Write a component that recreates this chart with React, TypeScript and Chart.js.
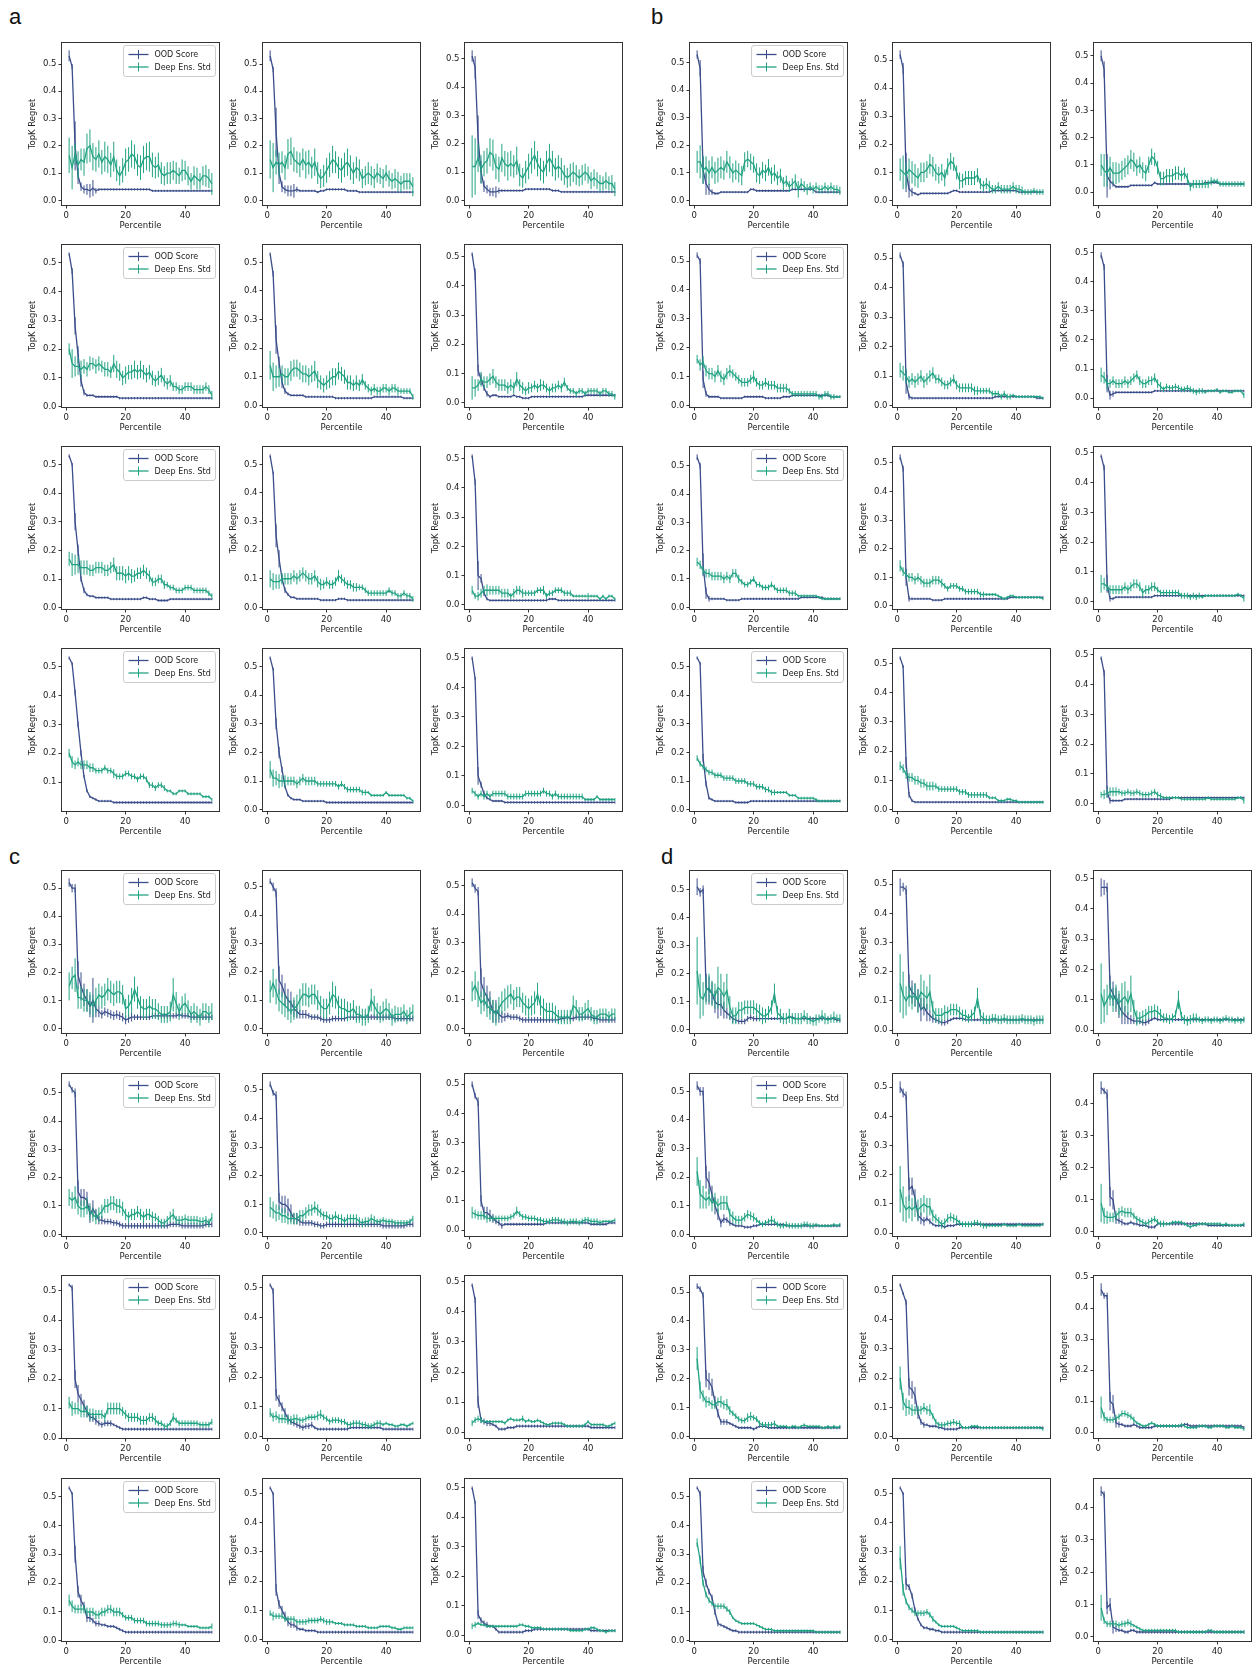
import React, { useEffect, useRef } from "react";
import { Chart, registerables } from "chart.js";
Chart.register(...registerables);

// ---------------- data ----------------
const percentiles = [1,2,3,4,5,6,7,8,9,10, 11,12,13,14,15,16,17,18,19,20, 21,22,23,24,25,26,27,28,29,30, 31,32,33,34,35,36,37,38,39,40, 41,42,43,44,45,46,47,48,49];
const VALUE_UNIT = 0.01; // series values are written in hundredths
const ERR_UNIT = 0.001; // error half-widths are written in thousandths

const panelLabels = ["a", "b", "c", "d"];
const oodLabel = "OOD Score";
const ensLabel = "Deep Ens. Std";
const yTitle = "TopK Regret";
const xTitle = "Percentile";
const xTickValues = [0, 20, 40];

// ---- panel a ----
const aR1C1Ood = [53,49,20,9,5,4,4,3.5,4.5,3.5, 4,4,4,4,4,4,4,4,4,4, 4,4,4,4,4,4,4,4,3.5,3.5, 3.5,3.5,3.5,3.5,3.5,3.5,3.5,3.5,3.5,3.5, 3.5,3.5,3.5,3.5,3.5,3.5,3.5,3.5,3.5];
const aR1C1OodErr = [20,10,90,30,15,15,20,25,30,10, 5,4,4,4,4,4,4,4,4,4, 4,4,4,4,4,4,4,4,4,4, 4,4,4,4,4,4,4,4,4,4, 4,4,4,4,4,4,4,4,4];
const aR1C1Ens = [16.5,12,17,13,15,14,19,20,16,15, 17,14,16,15,13,16,11,9,11,14, 15,17,16,13,12,15,16,16,13,12, 13,10,9,10,10,11,10,9,11,11, 9,7,9,8,7,9,9,8,6];
const aR1C1EnsErr = [65,80,40,50,40,50,55,60,50,45, 50,45,55,50,45,55,40,35,45,50, 45,50,45,40,45,50,50,55,45,40, 45,40,35,40,40,35,40,30,40,35, 35,30,35,40,30,35,40,35,40];

const aR1C2Ood = [53,48,25,10,5,4,3.5,3.5,3.5,4, 3.5,3.5,3.5,3.5,3.5,3.5,3,3.5,3.5,4, 4,4,4,4,4,4,3.5,3.5,3.5,3.5, 3,3,3,3,3,3,3,3,3,3, 3,3,3,3,3,3,3,3,3];
const aR1C2OodErr = [20,10,90,40,20,15,20,20,25,10, 5,4,4,4,4,4,4,4,4,4, 4,4,4,4,4,4,4,4,4,4, 4,4,4,4,4,4,4,4,4,4, 4,4,4,4,4,4,4,4,4];
const aR1C2Ens = [15,12,14,13,14,12,17,18,15,14, 13,15,13,14,12,14,10,8,9,11, 13,15,14,12,11,13,14,12,10,12, 11,8,9,10,9,8,10,9,8,10, 8,7,8,7,6,7,7,7,5];
const aR1C2EnsErr = [70,90,45,45,40,45,55,50,45,40, 45,40,50,45,40,50,40,35,40,45, 45,50,40,40,45,45,50,45,40,40, 40,35,35,40,35,35,35,30,35,30, 30,30,35,35,30,30,30,30,35];

const aR1C3Ood = [51,47,22,10,5,4,3,3,3,3.5, 3.5,3.5,3.5,3.5,3.5,3.5,3.5,3.5,4,4, 4,4,4,4,4,4,4,3.5,3.5,3.5, 3,3,3,3,3,3,3,3,3,3, 3,3,3,3,3,3,3,3,3];
const aR1C3OodErr = [20,40,80,40,20,15,15,15,20,10, 5,4,4,4,4,4,4,4,4,4, 4,4,4,4,4,4,4,4,4,4, 4,4,4,4,4,4,4,4,4,4, 4,4,4,4,4,4,4,4,4];
const aR1C3Ens = [12,12,15,11,13,14,17,16,12,11, 15,13,12,13,12,14,9,8,10,12, 14,16,13,11,10,13,15,13,11,12, 11,9,8,9,10,9,8,9,10,9, 7,8,7,6,6,7,6,6,4];
const aR1C3EnsErr = [110,100,50,50,45,45,50,55,45,45, 50,45,50,45,40,50,40,35,40,45, 45,50,45,40,40,45,50,45,40,40, 40,35,35,40,35,35,30,35,30,30, 30,30,30,30,25,30,25,30,25];

const aR2C1Ood = [53,47,28,18,9,5,4,4,4,3.5, 3.5,3.5,3.5,3.5,3.5,3.5,3.5,3,3,3, 3,3,3,3,3,3,3,3,3,3, 3,3,3,3,3,3,3,3,3,3, 3,3,3,3,3,3,3,3,3];
const aR2C1OodErr = [5,10,30,30,20,10,5,4,4,4, 4,4,4,4,4,4,4,4,4,4, 4,4,4,4,4,4,4,4,4,4, 4,4,4,4,4,4,4,4,4,4, 4,4,4,4,4,4,4,4,4];
const aR2C1Ens = [20,15,14,14,13,14,13,15,15,14, 15,14,13,13,12,15,13,12,10,11, 12,12,13,12,13,12,11,12,10,9, 10,11,9,8,9,7,7,6,6,7, 7,7,6,6,6,6,7,6,4];
const aR2C1EnsErr = [20,50,35,30,30,25,25,25,20,25, 25,20,25,25,20,30,30,30,25,30, 25,25,30,25,30,25,25,25,25,20, 25,25,20,20,20,15,15,15,15,15, 15,15,15,15,15,15,15,15,15];

const aR2C2Ood = [53,46,23,15,8,5,4,3.5,3.5,3.5, 3.5,3.5,3,3,3,3,3,3,3,3, 3,3,2.5,2.5,2.5,2.5,2.5,2.5,2.5,2.5, 2.5,2.5,2.5,2.5,2.5,3,3,3,3,3, 3,3,3,3,3,2.5,2.5,2.5,2.5];
const aR2C2OodErr = [5,10,50,20,20,10,5,4,4,4, 4,4,4,4,4,4,4,4,4,4, 4,4,4,4,4,4,4,4,4,4, 4,4,4,4,4,4,4,4,4,4, 4,4,4,4,4,4,4,4,4];
const aR2C2Ens = [14,10,10,10,11,10,10,12,13,13, 12,11,11,10,11,12,9,8,7,8, 9,10,10,12,11,10,8,8,7,8, 7,9,7,6,5,6,5,5,6,6, 5,6,6,5,5,5,5,5,3];
const aR2C2EnsErr = [50,50,40,35,30,30,30,35,30,30, 30,30,30,30,30,35,30,25,25,25, 30,30,30,30,25,25,25,25,20,25, 20,20,15,15,15,15,15,15,15,15, 15,15,15,15,10,10,10,10,10];

const aR2C3Ood = [51,44,11,8,5,3,2,2.5,2.5,2, 2,2,2,2,2.5,2,2,1.5,1.5,1.5, 2,2,2,2,2,2,2,2,2,2, 2,2,2,2,2,2,2,2,2.5,2.5, 2.5,2.5,2.5,2.5,2.5,2.5,2.5,2.5,2.5];
const aR2C3OodErr = [5,20,20,20,10,10,5,4,4,4, 4,4,4,4,4,4,4,4,4,4, 4,4,4,4,4,4,4,4,4,4, 4,4,4,4,4,4,4,4,4,4, 4,4,4,4,4,4,4,4,4];
const aR2C3Ens = [5,5,6,8,7,7,8,9,7,6, 6,6,5,6,5,8,6,5,4,5, 5,6,5,6,6,5,4,5,5,6, 5,7,5,4,4,3,4,4,3,4, 4,4,4,3,4,4,3,3,2];
const aR2C3EnsErr = [40,30,20,25,20,20,20,25,20,20, 20,20,20,20,20,25,20,20,15,20, 15,15,15,20,15,15,15,15,15,15, 15,15,10,10,10,10,10,10,10,10, 10,10,10,10,10,10,10,10,10];

const aR3C1Ood = [53,50,30,20,10,6,4.5,4,4,3.5, 3.5,3.5,3.5,3.5,3,3,3,3,3,3, 3,3,3,3,3,3.5,3.5,3,3,3, 2.5,2.5,2.5,2.5,3,3,3,3,3,3, 3,3,3,3,3,3,3,3,3];
const aR3C1OodErr = [5,5,30,20,10,10,5,4,4,4, 4,4,4,4,4,4,4,4,4,4, 4,4,4,4,4,4,4,4,4,4, 4,4,4,4,4,4,4,4,4,4, 4,4,4,4,4,4,4,4,4];
const aR3C1Ens = [17,15,15,15,14,14,14,13,13,14, 14,14,13,13,14,15,12,12,12,11, 12,11,11,12,12,13,12,11,9,9, 10,10,8,8,7,7,6,6,6,7, 7,7,6,6,6,6,6,5,4];
const aR3C1EnsErr = [25,40,35,30,25,25,25,20,20,20, 20,20,20,20,20,25,25,25,25,25, 25,25,20,20,20,20,20,20,15,15, 15,15,15,10,10,10,10,10,10,10, 10,10,10,10,10,10,10,10,10];

const aR3C2Ood = [53,47,25,17,10,6,4.5,3.5,3.5,3, 3,3,3,3,3,3,3,2.5,2.5,2.5, 2.5,2.5,2.5,3,3,3,2.5,2.5,2.5,2.5, 2.5,2.5,2.5,2.5,2.5,2.5,2.5,2.5,2.5,2.5, 2.5,2.5,2.5,2.5,2.5,2.5,2.5,2.5,2.5];
const aR3C2OodErr = [5,5,40,30,15,10,5,4,4,4, 4,4,4,4,4,4,4,4,4,4, 4,4,4,4,4,4,4,4,4,4, 4,4,4,4,4,4,4,4,4,4, 4,4,4,4,4,4,4,4,4];
const aR3C2Ens = [10,9,9,9,10,10,10,10,11,10, 11,12,11,10,10,11,9,8,8,9, 8,8,9,11,10,9,8,8,7,7, 7,7,6,5,5,5,5,5,5,5, 6,5,5,4,4,5,4,4,3];
const aR3C2EnsErr = [30,30,25,25,20,20,20,20,20,20, 20,20,20,20,20,20,20,20,15,15, 15,15,15,20,15,15,15,15,15,15, 10,10,10,10,10,10,10,10,10,10, 10,10,10,10,10,10,10,10,10];

const aR3C3Ood = [51,42,10,9,4,2,1.5,1.5,1.5,1.5, 1.5,1.5,1.5,1.5,1.5,1.5,1.5,1.5,1.5,1.5, 1.5,1.5,1.5,1.5,1.5,1.5,2,2,2,1.5, 1.5,1.5,1.5,1.5,1.5,1.5,1.5,1.5,1.5,1.5, 1.5,1.5,1.5,1.5,1.5,1.5,1.5,1.5,1.5];
const aR3C3OodErr = [5,10,50,15,10,5,4,4,4,4, 4,4,4,4,4,4,4,4,4,4, 4,4,4,4,4,4,4,4,4,4, 4,4,4,4,4,4,4,4,4,4, 4,4,4,4,4,4,4,4,4];
const aR3C3Ens = [5,3,3,4,5,5,5,5,5,5, 4,4,4,3,4,5,5,4,4,4, 4,4,5,5,5,3,4,4,5,5, 5,4,4,4,3,3,3,3,3,3, 3,3,3,2,3,2,3,3,2];
const aR3C3EnsErr = [15,10,15,15,15,20,15,15,15,15, 15,15,15,10,15,15,15,15,10,10, 10,10,10,10,15,10,10,10,10,10, 10,10,10,10,5,5,5,5,5,10, 5,5,5,5,5,5,5,5,5];

const aR4C1Ood = [53,51,41,30,20,12,7,5,4.5,4, 3.5,3.5,3.5,3.5,3.5,3,3,3,3,3, 3,3,3,3,3,3,3,3,3,3, 3,3,3,3,3,3,3,3,3,3, 3,3,3,3,3,3,3,3,3];
const aR4C1OodErr = [5,5,10,10,10,5,5,4,4,4, 4,4,4,4,4,4,4,4,4,4, 4,4,4,4,4,4,4,4,4,4, 4,4,4,4,4,4,4,4,4,4, 4,4,4,4,4,4,4,4,4];
const aR4C1Ens = [20,17,16,17,16,16,16,15,15,14, 14,14,15,14,14,13,12,12,12,13, 13,12,12,11,12,12,11,9,9,8, 9,9,8,7,7,6,6,7,7,7, 6,6,6,6,6,5,5,5,4];
const aR4C1EnsErr = [15,20,15,15,15,15,15,15,15,10, 10,10,10,10,10,15,10,10,10,10, 10,10,10,10,10,10,10,10,10,10, 10,10,10,5,5,5,5,5,5,5, 5,5,5,5,5,5,5,5,5];

const aR4C2Ood = [53,49,30,20,14,8,5,4,3.5,3.5, 3.5,3,3,3,3,3,3,3,3,2.5, 2.5,2.5,2.5,2.5,2.5,2.5,2.5,2.5,2.5,2.5, 2.5,2.5,2.5,2.5,2.5,2.5,2.5,2.5,2.5,2.5, 2.5,2.5,2.5,2.5,2.5,2.5,2.5,2.5,2.5];
const aR4C2OodErr = [5,5,20,20,10,5,4,4,4,4, 4,4,4,4,4,4,4,4,4,4, 4,4,4,4,4,4,4,4,4,4, 4,4,4,4,4,4,4,4,4,4, 4,4,4,4,4,4,4,4,4];
const aR4C2Ens = [14,11,11,10,10,10,10,10,10,9, 10,11,10,10,10,10,9,9,9,9, 9,9,9,8,9,8,7,7,7,7, 7,6,6,6,5,5,5,5,5,6, 5,5,5,5,5,5,4,4,3];
const aR4C2EnsErr = [30,30,25,25,20,20,15,15,15,15, 15,15,15,15,15,15,10,10,10,10, 10,10,10,10,10,10,10,10,10,10, 10,10,10,5,5,5,5,5,5,5, 5,5,5,5,5,5,5,5,5];

const aR4C3Ood = [50,43,10,7,4,2.5,2,1.5,1.5,1.5, 1.5,1,1,1,1,1,1,1,1,1, 1,1,1,1,1,1,1,1,1,1, 1,1,1,1,1,1,1,1,1,1, 1,1,1,1,1,1,1,1,1];
const aR4C3OodErr = [5,5,30,10,10,5,4,4,4,4, 4,4,4,4,4,4,4,4,4,4, 4,4,4,4,4,4,4,4,4,4, 4,4,4,4,4,4,4,4,4,4, 4,4,4,4,4,4,4,4,4];
const aR4C3Ens = [5,4,3,4,3,4,3,4,4,4, 4,4,3,3,3,3,3,3,4,4, 4,4,4,4,5,4,4,3,4,3, 3,3,3,3,3,3,3,3,2,2, 2,2,3,2,2,2,2,2,2];
const aR4C3EnsErr = [10,10,10,10,10,10,10,10,10,10, 10,10,10,10,10,10,10,10,10,10, 10,10,10,10,10,10,10,10,10,10, 10,10,10,10,10,10,10,10,5,5, 5,5,5,5,5,5,5,5,5];

// ---- panel b ----
const bR1C1Ood = [53,48,11,6,4,3,2.5,2.5,3,3, 3,3,3,3,3,3,3,3,4,4, 3.5,3.5,3.5,3.5,3.5,3.5,3.5,3.5,3.5,3.5, 3.5,3.5,4,4,4,4,4,4,4,4, 3,3,3,3,3,3,3,3,3];
const bR1C1OodErr = [15,30,50,40,20,10,5,4,4,4, 4,4,4,4,4,4,4,4,4,4, 4,4,4,4,4,4,4,4,4,4, 4,4,4,4,4,4,4,4,4,4, 4,4,4,4,4,4,4,4,4];
const bR1C1Ens = [14,14,11,12,10,12,10,11,12,11, 14,12,10,11,10,9,14,15,14,13, 10,9,11,10,12,9,10,8,9,6, 7,5,6,7,4,6,5,4,5,4, 5,4,4,5,4,5,4,4,3.5];
const bR1C1EnsErr = [40,60,50,40,45,40,40,45,40,35, 40,40,35,35,35,35,35,30,30,30, 35,30,30,30,30,30,30,25,25,25, 20,20,20,25,30,20,20,20,15,15, 15,15,15,15,15,15,15,15,15];

const bR1C2Ood = [52,47,10,4,3,2.5,2,2.5,2.5,2.5, 2.5,2.5,2.5,2.5,2.5,2.5,2.5,3,3.5,3.5, 3,3,3,3,3,3,3,3,3,3, 3,3.5,3.5,3.5,3.5,3.5,3.5,3.5,3.5,3.5, 3,3,3,3,3,3,3,3,3];
const bR1C2OodErr = [15,20,70,30,15,5,4,4,4,4, 4,4,4,4,4,4,4,4,4,4, 4,4,4,4,4,4,4,4,4,4, 4,4,4,4,4,4,4,4,4,4, 4,4,4,4,4,4,4,4,4];
const bR1C2Ens = [11,10,9,11,10,9,8,10,10,11, 13,12,10,9,10,8,12,14,13,10, 7,7,8,8,8,8,9,6,5,6, 5,4,4,5,4,4,4,4,5,4, 4,3.5,3,3,3,3.5,3,3,3];
const bR1C2EnsErr = [40,60,45,40,40,40,35,35,35,30, 35,35,30,30,30,30,30,30,25,25, 30,25,25,25,25,25,25,20,20,20, 20,15,15,15,15,15,15,15,15,15, 15,15,10,10,10,10,10,10,10];

const bR1C3Ood = [50,45,6,4,3,2,2,2,2,2, 2.5,2.5,2.5,2.5,2.5,2.5,2.5,2.5,3.5,3, 3,3,3,3,3,3,3,3,3,3, 3,3,3,3,3,3.5,3.5,3.5,3.5,3.5, 3,3,3,3,3,3,3,3,3];
const bR1C3OodErr = [20,30,80,30,10,5,4,4,4,4, 4,4,4,4,4,4,4,4,4,4, 4,4,4,4,4,4,4,4,4,4, 4,4,4,4,4,4,4,4,4,4, 4,4,4,4,4,4,4,4,4];
const bR1C3Ens = [10,8,7,9,7,7,7,8,9,10, 12,11,9,10,8,7,10,13,12,9, 5,5,6,6,6,7,7,6,7,5, 2,3,3,3,3,3,3,4,4,4, 3,3,3,3,3,3,3,3,3];
const bR1C3EnsErr = [40,60,50,40,40,40,35,35,35,35, 35,35,30,30,30,30,30,30,25,25, 25,25,25,25,25,25,25,20,20,20, 15,15,15,15,15,15,15,15,10,10, 10,10,10,10,10,10,10,10,10];

const bR2C1Ood = [52,50,9,4,3,3,3,3,2.5,2.5, 2.5,2.5,2.5,2.5,2.5,2.5,3,3,3,3, 3,3,3,2.5,2.5,2.5,2.5,2.5,2.5,3, 3,3,3.5,3.5,3.5,3.5,3.5,3.5,3.5,3.5, 3.5,3.5,3.5,3.5,3.5,3,3,3,3];
const bR2C1OodErr = [10,10,30,10,5,4,4,4,4,4, 4,4,4,4,4,4,4,4,4,4, 4,4,4,4,4,4,4,4,4,4, 4,4,4,4,4,4,4,4,4,4, 4,4,4,4,4,4,4,4,4];
const bR2C1Ens = [16,14,15,12,11,11,10,12,10,9, 11,12,11,10,9,8,8,8,9,10, 8,7,7,8,7,7,7,6,6,6, 6,5,4,4,4,4,4,4,4,4, 4,3,3,4,4,3,3,3,3];
const bR2C1EnsErr = [15,20,20,20,20,20,20,20,20,20, 20,20,15,15,15,15,15,15,15,20, 15,15,15,15,15,15,15,15,15,15, 15,10,10,10,10,10,10,10,10,10, 10,10,10,10,10,10,10,5,5];

const bR2C2Ood = [51,48,8,3,2.5,2.5,2.5,2.5,2.5,2.5, 2.5,2.5,2.5,2.5,2.5,2.5,2.5,2.5,2.5,2.5, 2.5,2.5,2.5,2.5,2.5,2.5,2.5,2.5,2.5,2.5, 2.5,2.5,3,3,3,3,3,3,3,3, 3,3,3,3,3,3,2.5,2.5,2.5];
const bR2C2OodErr = [10,10,40,10,5,4,4,4,4,4, 4,4,4,4,4,4,4,4,4,4, 4,4,4,4,4,4,4,4,4,4, 4,4,4,4,4,4,4,4,4,4, 4,4,4,4,4,4,4,4,4];
const bR2C2Ens = [12,11,10,8,9,8,9,10,8,9, 10,11,9,9,8,7,7,8,9,7, 6,6,6,6,6,5,5,5,5,5, 5,4,4,4,3,4,3,3,3.5,3, 3,3,3,3,3,3,3,3,2.5];
const bR2C2EnsErr = [25,25,25,20,20,20,20,20,20,20, 20,20,15,15,15,15,15,15,15,15, 15,15,15,15,15,15,15,10,10,10, 10,10,10,10,10,10,10,10,5,5, 5,5,5,5,5,5,5,5,5];

const bR2C3Ood = [49,45,5,1,1.5,2,2,2,2,2, 2,2,2,2,2,2,2,2,2.5,2.5, 2.5,2.5,2.5,2.5,2.5,2.5,2.5,2.5,2.5,2.5, 2.5,2.5,2.5,2.5,2.5,2.5,2.5,2.5,2.5,2.5, 2.5,2.5,2.5,2.5,2.5,2.5,2.5,2.5,2.5];
const bR2C3OodErr = [10,10,30,15,10,5,4,4,4,4, 4,4,4,4,4,4,4,4,4,4, 4,4,4,4,4,4,4,4,4,4, 4,4,4,4,4,4,4,4,4,4, 4,4,4,4,4,4,4,4,4];
const bR2C3Ens = [8,7,5,5,6,5,5,5,6,5, 6,7,8,6,5,5,6,6,7,5, 4,3,4,3.5,3.5,4,3.5,3,3,3.5, 3,2.5,2,2.5,2.5,2,2.5,2.5,2.5,3, 2,2.5,2.5,2,2,2.5,2.5,2.5,1];
const bR2C3EnsErr = [25,20,20,15,15,15,15,15,15,15, 15,15,15,15,15,15,15,15,15,15, 15,10,10,10,10,10,10,10,10,10, 10,10,10,10,10,5,5,5,5,5, 5,5,5,5,5,5,5,5,10];

const bR3C1Ood = [53,50,15,5,3,3,3,3,3,3, 2.5,2.5,2.5,2.5,2.5,3,3,3,3,3, 3,3,3,3,3,3,3,3,3,3, 3,3,3,3,3,3.5,3.5,3.5,3.5,3.5, 3.5,3.5,3.5,3,3,3,3,3,3];
const bR3C1OodErr = [10,10,40,20,10,5,4,4,4,4, 4,4,4,4,4,4,4,4,4,4, 4,4,4,4,4,4,4,4,4,4, 4,4,4,4,4,4,4,4,4,4, 4,4,4,4,4,4,4,4,4];
const bR3C1Ens = [16,15,13,12,12,11,11,11,11,10, 11,10,12,12,10,9,8,8,9,10, 8,8,7,7,7,8,7,6,6,6, 6,5,5,5,4,4,4,4,4,4, 4,3.5,3,3,3,3,3,3,3];
const bR3C1EnsErr = [15,15,15,15,15,15,15,15,15,15, 15,15,15,15,15,10,10,10,10,10, 10,10,10,10,10,10,10,10,10,10, 10,10,10,10,5,5,5,5,5,5, 5,5,5,5,5,5,5,5,5];

const bR3C2Ood = [52,48,10,2.5,2.5,2.5,2.5,2.5,2.5,2.5, 2.5,2,2,2,2,2.5,2.5,2.5,2.5,2.5, 2.5,2.5,2.5,2.5,2.5,2.5,2.5,2.5,2.5,2.5, 2.5,2.5,2.5,2.5,2.5,2.5,2.5,3,3,3, 3,3,3,3,3,3,3,3,3];
const bR3C2OodErr = [10,10,30,10,5,4,4,4,4,4, 4,4,4,4,4,4,4,4,4,4, 4,4,4,4,4,4,4,4,4,4, 4,4,4,4,4,4,4,4,4,4, 4,4,4,4,4,4,4,4,4];
const bR3C2Ens = [14,12,11,10,10,9,10,9,8,8, 8,9,9,9,8,7,6,7,7,7, 6,6,5,5,5,5,5,4,4,4, 4,4,4,3.5,3,2.5,3,3.5,3.5,3, 3,3,3,3,3,3,3,3,2.5];
const bR3C2EnsErr = [20,15,15,15,15,15,15,15,15,15, 15,15,15,15,15,10,10,10,10,10, 10,10,10,10,10,10,10,10,10,5, 5,5,5,5,5,5,5,5,5,5, 5,5,5,5,5,5,5,5,5];

const bR3C3Ood = [49,45,6,1,1,1.5,1.5,1.5,1.5,1.5, 1.5,1.5,1.5,1.5,1.5,1.5,1.5,1.5,2,2, 2,2,2,2,2,2,2,2,2,2, 2,2,2,2,2,2,2,2,2,2, 2,2,2,2,2,2,2,2,2];
const bR3C3OodErr = [5,10,30,10,5,4,4,4,4,4, 4,4,4,4,4,4,4,4,4,4, 4,4,4,4,4,4,4,4,4,4, 4,4,4,4,4,4,4,4,4,4, 4,4,4,4,4,4,4,4,4];
const bR3C3Ens = [6,6,5,4,4,4,4,4,5,4, 5,6,6,5,3,4,4,5,5,4, 3,3,3,3,3,3,3,2,2,2, 1.5,2,1.5,2,1.5,2,2,2,2,2, 2,2,2,2,2,2,2.5,2,1];
const bR3C3EnsErr = [30,20,15,15,15,15,15,15,15,15, 15,15,15,15,15,15,15,15,15,10, 10,10,10,10,10,10,10,10,10,10, 10,10,10,10,5,5,5,5,5,5, 5,5,5,5,5,5,5,5,10];

const bR4C1Ood = [53,51,18,9,4,3.5,3,3,3,3, 3,3,3,2.5,2.5,2.5,2.5,2.5,3,3, 3,3,3,3,3,3,3,3,3,3, 3,3,3,3,3,3,3,3,3,3, 3,3,3,3,3,3,3,3,3];
const bR4C1OodErr = [5,5,15,10,5,4,4,4,4,4, 4,4,4,4,4,4,4,4,4,4, 4,4,4,4,4,4,4,4,4,4, 4,4,4,4,4,4,4,4,4,4, 4,4,4,4,4,4,4,4,4];
const bR4C1Ens = [18,16,15,14,13,13,12,12,12,11, 11,11,11,10,10,10,10,9,9,9, 8,8,8,7,7,6,6,6,6,6, 6,5,5,5,4,4,4,4,4,4, 3.5,3,3,3,3,3,3,3,3];
const bR4C1EnsErr = [10,10,10,10,10,10,10,10,10,10, 10,10,10,10,10,10,10,10,10,10, 10,10,10,10,10,10,10,5,5,5, 5,5,5,5,5,5,5,5,5,5, 5,5,5,5,5,5,5,5,5];

const bR4C2Ood = [52,49,16,5,3,2.5,2.5,2.5,2.5,2.5, 2.5,2.5,2.5,2.5,2.5,2.5,2.5,2.5,2.5,2.5, 2.5,2.5,2.5,2.5,2.5,2.5,2.5,2.5,2.5,2.5, 2.5,2.5,2.5,2.5,2.5,2.5,2.5,2.5,2.5,2.5, 2.5,2.5,2.5,2.5,2.5,2.5,2.5,2.5,2.5];
const bR4C2OodErr = [5,5,20,10,5,4,4,4,4,4, 4,4,4,4,4,4,4,4,4,4, 4,4,4,4,4,4,4,4,4,4, 4,4,4,4,4,4,4,4,4,4, 4,4,4,4,4,4,4,4,4];
const bR4C2Ens = [15,14,12,11,11,10,10,9,9,8, 8,8,8,7,7,7,7,7,7,7, 6,6,6,5,5,5,5,5,5,5, 4,4,4,3,3,3,3.5,3.5,3,3, 2.5,2.5,2.5,2.5,2.5,2.5,2.5,2.5,2.5];
const bR4C2EnsErr = [15,15,15,15,15,15,15,15,15,15, 15,15,10,10,10,10,10,10,10,10, 10,10,10,10,10,10,10,10,10,10, 5,5,5,5,5,5,5,5,5,5, 5,5,5,5,5,5,5,5,5];

const bR4C3Ood = [49,44,4,1,1,1,1,1,1.5,1.5, 1.5,1.5,1.5,1.5,1.5,1.5,1.5,1.5,1.5,1.5, 1.5,1.5,1.5,1.5,2,2,2,2,2,2, 2,2,2,2,2,2,2,2,2,2, 2,2,2,2,2,2,2,2,2];
const bR4C3OodErr = [5,10,20,10,5,4,4,4,4,4, 4,4,4,4,4,4,4,4,4,4, 4,4,4,4,4,4,4,4,4,4, 4,4,4,4,4,4,4,4,4,4, 4,4,4,4,4,4,4,4,4];
const bR4C3Ens = [3,3,3.5,4,4,4,4,3.5,3.5,4, 3.5,3.5,4,3.5,3,3,3,3.5,4,3, 2.5,2,2,2,2,2,2,1.5,1.5,1.5, 1.5,1.5,1.5,1.5,1.5,1.5,2,1.5,1.5,1.5, 1.5,1.5,1.5,1.5,1.5,1.5,2,2,1];
const bR4C3EnsErr = [10,15,15,15,15,15,10,10,10,10, 10,10,10,10,10,10,10,10,10,10, 10,5,5,5,5,5,5,5,5,5, 5,5,5,5,5,5,5,5,5,5, 5,5,5,5,5,5,5,5,10];

// ---- panel c ----
const cR1C1Ood = [52,50,50,19,15,12,10,8,10,7, 6,5,6,5.5,5,4.5,5,4.5,4,3, 3.5,4,4,4,4,4,4,4,4.5,4.5, 4.5,4.5,4.5,4.5,4.5,4.5,4.5,5,4.5,4.5, 4.5,4,4,4,4,4,4,4,4];
const cR1C1OodErr = [15,15,15,50,50,40,40,40,80,30, 20,15,15,15,15,15,15,15,15,15, 15,15,10,10,10,10,10,10,10,10, 10,10,10,10,10,10,10,10,10,10, 10,10,10,10,10,10,10,10,10];
const cR1C1Ens = [15,18,19,11,11,10,10,9,8,10, 12,11,12,14,13,12,13,13,12,7, 8,10,14,11,8,7,7,8,7,7, 6,5,5,5,6,12,9,6,8,9, 7,5,6,5,4,6,6,5,6];
const cR1C1EnsErr = [50,40,60,40,40,40,40,40,40,45, 40,40,40,40,40,40,40,40,35,35, 40,45,45,40,35,35,35,35,35,35, 30,30,30,30,35,60,40,30,35,35, 30,30,30,30,30,30,30,30,30];

const cR1C2Ood = [52,50,48,17,15,12,10,9,7,6, 5,5,5,4.5,4,4,4,3.5,3,3, 3,3.5,3.5,3.5,3.5,3.5,4,4,4,4, 4,4,4,4,4,4,4,4,4,4, 4,4,3.5,3.5,3.5,3.5,3.5,3.5,3.5];
const cR1C2OodErr = [10,15,15,50,40,40,40,40,30,25, 15,15,15,10,10,10,10,10,10,10, 10,10,10,10,10,10,10,10,10,10, 10,10,10,10,10,10,10,10,10,10, 10,10,10,10,10,10,10,10,10];
const cR1C2Ens = [13,16,13,10,9,8,7,6,7,8, 10,12,12,11,12,12,10,8,7,7, 9,12,11,8,7,7,6,6,7,5, 5,4,4,5,10,8,6,5,6,7, 6,4,5,5,5,6,4,5,6];
const cR1C2EnsErr = [40,50,45,40,40,40,40,40,40,40, 40,40,40,35,35,35,35,35,35,35, 40,45,40,35,35,35,35,30,30,30, 30,30,30,30,40,35,30,30,35,35, 30,30,30,25,25,25,25,25,25];

const cR1C3Ood = [51,49,48,16,13,11,9,6,6,5, 4,4,4.5,4,4,4,3.5,3,3,3, 3,3,3,3,3,3,3,3,3,3, 3.5,3.5,4,3.5,3.5,4,4,4,4,4, 4,3.5,3.5,3,3,3,3,3,3];
const cR1C3OodErr = [15,15,15,50,50,40,40,40,40,30, 20,15,10,10,10,10,10,10,10,10, 10,10,10,10,10,10,10,10,10,10, 10,10,10,10,10,10,10,10,10,10, 10,10,10,10,10,10,10,10,10];
const cR1C3Ens = [13,15,12,9,10,8,7,6,5,7, 9,10,11,12,10,11,11,9,8,7, 8,9,12,8,7,6,6,6,5,4, 4,4,4,4,8,7,5,5,6,7, 5,4,4,5,5,5,4,5,5];
const cR1C3EnsErr = [35,50,45,40,40,40,40,40,40,40, 40,40,40,35,35,35,35,35,35,35, 35,40,40,35,35,30,30,30,30,25, 25,25,25,25,35,30,25,25,30,30, 25,25,25,20,20,20,20,20,20];

const cR2C1Ood = [53,51,50,15,13,13,12,7,9,7, 5,5,4.5,4.5,4.5,4,4,3.5,3,3, 3,3,3,3,3,3,3,3,3,3, 3,3,3,3,3.5,3.5,3.5,3.5,3,3, 3,3,3,3,3,3,3.5,3.5,3.5];
const cR2C1OodErr = [10,10,15,40,30,30,30,30,30,20, 15,15,10,10,10,10,10,10,10,10, 10,10,10,10,10,10,10,10,10,10, 10,10,10,10,10,10,10,10,10,10, 10,10,10,10,10,10,10,10,10];
const cR2C1Ens = [13,12,13,10,9,9,10,8,7,6, 7,8,10,10,11,11,10,10,9,7, 6,7,7,8,7,6,7,7,6,6, 5,4,4,5,6,7,5,5,5,5.5, 5,5,5,5,4.5,4.5,5,4,6];
const cR2C1EnsErr = [30,30,40,30,30,30,30,30,25,25, 25,25,25,25,25,25,25,25,25,20, 20,20,20,20,20,20,20,20,20,15, 15,15,15,15,20,20,15,15,15,15, 15,15,15,15,15,15,15,15,15];

const cR2C2Ood = [52,49,48,11,10,10,9,7,5,5, 4,3.5,3.5,3.5,3.5,3,3,2.5,2.5,3, 3,3,3,3,3,3,3,3,3,3, 3,3,3,3,3,3,3,3,2.5,2.5, 2.5,2.5,2.5,2.5,2.5,2.5,3,3,3];
const cR2C2OodErr = [10,10,15,30,30,30,30,30,20,20, 15,10,10,10,10,10,10,10,10,10, 10,10,10,10,10,10,10,10,10,10, 10,10,10,10,10,10,10,10,10,10, 10,10,10,10,10,10,10,10,10];
const cR2C2Ens = [9,8,7,7,6,6,5,5,5,5, 6,6,7,8,8,9,8,7,6,6, 5,5,6,5,5,4,5,5,5,5, 4,3.5,4,4,5,4.5,4,4,4.5,4, 4,4,3.5,3.5,3.5,3.5,3.5,4,5];
const cR2C2EnsErr = [35,30,30,25,25,25,20,20,20,20, 20,20,20,20,20,20,20,15,15,15, 15,15,15,15,15,15,15,15,15,15, 15,15,15,15,15,15,10,10,10,10, 10,10,10,10,10,10,10,10,10];

const cR2C3Ood = [50,46,44,10,6,6,5,4,3,2.5, 1.5,2,2,2,2,2,2,2,2,2, 2,2,2,2,2,2.5,2.5,2.5,2.5,2.5, 2.5,2.5,2.5,2.5,2.5,2.5,2.5,2.5,2.5,2.5, 2,2,2,2,2,2,2.5,2.5,2.5];
const cR2C3OodErr = [10,10,15,20,20,20,20,15,10,10, 10,5,5,5,5,5,5,5,5,5, 5,5,5,5,5,5,5,5,5,5, 5,5,5,5,5,5,5,5,5,5, 5,5,5,5,5,5,5,5,5];
const cR2C3Ens = [6,5.5,5,5,5,4,4,4,4,4, 4,4,4,4.5,5,6.5,5.5,4.5,4.5,4, 4,4,3.5,3.5,3,3,3,3.5,3.5,3.5, 3,3,2.5,3,3,3,2.5,3,3.5,3.5, 3,3,3,2.5,3,3,3,3,3.5];
const cR2C3EnsErr = [20,15,15,15,15,15,10,10,10,10, 10,10,10,10,10,15,10,10,10,10, 10,10,10,10,10,10,10,10,10,10, 10,10,10,10,10,10,10,10,10,10, 10,10,10,10,5,5,5,5,5];

const cR3C1Ood = [52,51,20,15,13,11,9,7,7,6, 5,4.5,5,5,5,4.5,4,3.5,3,3, 3,3,3,3,3,3,3,3,3,3, 3,3,3,3,3,3,3,3,3,3, 3,3,3,3,3,3,3,3,3];
const cR3C1OodErr = [5,10,30,30,20,20,20,15,15,15, 10,10,10,10,10,5,5,5,5,5, 5,5,5,5,5,5,5,5,5,5, 5,5,5,5,5,5,5,5,5,5, 5,5,5,5,5,5,5,5,5];
const cR3C1Ens = [12,10,10,10,9,9,9,8,8,8, 8,8,7,10,10,10,10,10,9,8, 7,7,7,7,6,6,6,7,7,6, 5,5,4,4,5,7,6,5,5,5, 5,5,5,5,4.5,4.5,4.5,4.5,5.5];
const cR3C1EnsErr = [20,25,20,20,20,20,20,20,20,15, 15,15,15,20,20,20,20,20,15,15, 15,15,15,15,15,15,15,15,15,15, 10,10,10,10,10,15,10,10,10,10, 10,10,10,10,10,10,10,10,10];

const cR3C2Ood = [51,49,14,12,10,8,6,5,4.5,4, 3.5,3,3.5,3.5,4,3,2.5,2.5,2.5,2.5, 2.5,2.5,2.5,2.5,2.5,2.5,2.5,3,3,3, 3,3,3,3,3,3,3,3,2.5,2.5, 2.5,2.5,2.5,2.5,2.5,2.5,2.5,2.5,2.5];
const cR3C2OodErr = [5,10,20,20,15,15,15,10,10,10, 10,10,10,10,10,5,5,5,5,5, 5,5,5,5,5,5,5,5,5,5, 5,5,5,5,5,5,5,5,5,5, 5,5,5,5,5,5,5,5,5];
const cR3C2Ens = [8,6.5,7,6,6,6,5.5,5.5,6,6, 5.5,5.5,6,6.5,6.5,6.5,7,7.5,6.5,6, 5,5.5,5.5,5.5,5,5,4,4,4.5,4.5, 4.5,4,4,3.5,3.5,4,4.5,4.5,4,4.5, 4,4,3.5,3.5,4,4,3.5,4,4.5];
const cR3C2EnsErr = [15,15,15,15,15,15,15,15,15,15, 10,10,10,10,10,10,15,15,10,10, 10,10,10,10,10,10,10,10,10,10, 10,10,10,10,10,10,10,10,5,5, 5,5,5,5,5,5,5,5,5];

const cR3C3Ood = [49,44,10,4,3.5,3,3,2.5,2,1, 1,1,1.5,1.5,1.5,2,2,2,2,2, 2,2,2,2,2,2,2,2,2,2, 2,2,2,2,2,2,2,2,2,2, 1.5,1.5,1.5,1.5,1.5,1.5,1.5,1.5,1.5];
const cR3C3OodErr = [5,10,20,10,10,10,10,5,5,5, 5,5,5,5,5,5,5,5,5,5, 5,5,5,5,5,5,5,5,5,5, 5,5,5,5,5,5,5,5,5,5, 5,5,5,5,5,5,5,5,5];
const cR3C3Ens = [3,4,4.5,4,3.5,3.5,3.5,3.5,3.5,3.5, 3.5,3,4,4.5,4,4,4,4.5,3.5,4, 3.5,3.5,4,3.5,3,2.5,2.5,3,3,3, 3,2.5,2,2,2,2,2,2,2.5,3.5, 2.5,2.5,2.5,2.5,2.5,2,2,2.5,3];
const cR3C3EnsErr = [10,10,10,10,5,5,5,5,5,5, 5,5,5,5,5,5,5,10,5,5, 5,5,5,5,5,5,5,5,5,5, 5,5,5,5,5,5,5,5,5,5, 5,5,5,5,5,5,5,5,5];

const cR4C1Ood = [53,51,30,17,14,12,8,8,7,6, 6,5.5,5.5,5,5,5,4.5,4,3.5,3, 3,3,3,3,3,3,3,3,3,3, 3,3,3,3,3,3,3,3,3,3, 3,3,3,3,3,3,3,3,3];
const cR4C1OodErr = [5,5,30,20,20,15,15,15,10,10, 10,5,5,5,5,5,5,5,5,5, 5,5,5,5,5,5,5,5,5,5, 5,5,5,5,5,5,5,5,5,5, 5,5,5,5,5,5,5,5,5];
const cR4C1Ens = [14,12,11,11,11,11,10,10,10,9, 9,10,10,11,11,10,10,10,9,8, 8,8,7,7,7,7,6,6,6,6, 6,5.5,5.5,5.5,5.5,6,6,5.5,5.5,5.5, 5,5,5,5,4.5,4.5,4.5,4.5,5];
const cR4C1EnsErr = [20,20,15,15,15,15,15,15,15,15, 15,15,15,15,15,15,15,15,10,10, 10,10,10,10,10,10,10,10,10,10, 10,10,10,10,10,10,10,10,5,5, 5,5,5,5,5,5,5,5,10];

const cR4C2Ood = [52,50,17,12,10,8,6,5,5,4, 3.5,3.5,3,3,3,3,2.5,2.5,2.5,2.5, 2.5,2.5,2.5,2.5,2.5,2.5,2.5,2.5,2.5,2.5, 2.5,2.5,2.5,2.5,2.5,2.5,2.5,2.5,2.5,2.5, 2.5,2.5,2.5,2.5,2.5,2.5,2.5,2.5,2.5];
const cR4C2OodErr = [5,5,20,15,15,15,15,10,10,10, 5,5,5,5,5,5,5,5,5,5, 5,5,5,5,5,5,5,5,5,5, 5,5,5,5,5,5,5,5,5,5, 5,5,5,5,5,5,5,5,5];
const cR4C2Ens = [9,8,8,8,8,7,7,7,7,6, 6,6,6,6.5,6.5,6.5,6.5,7,6.5,6, 6,6,5.5,5.5,5.5,5,5,5,5,4.5, 4.5,4.5,4.5,4,4,4,4,4.5,4.5,4.5, 4.5,4,4,3.5,3.5,4,4,4,4];
const cR4C2EnsErr = [10,15,10,10,10,10,10,10,10,10, 10,10,10,10,10,10,10,10,10,10, 10,5,5,5,5,5,5,5,5,5, 5,5,5,5,5,5,5,5,5,5, 5,5,5,5,5,5,5,5,5];

const cR4C3Ood = [50,45,7,5,4,3.5,3,3,2,1, 1,1,1,1,1,1,1,1,1.5,1.5, 1.5,2,2,2,2,2,2,2,2,2, 2,2,2,2,2,2,2,2,2,2, 1.5,1.5,1.5,1.5,1.5,1.5,1.5,1.5,1.5];
const cR4C3OodErr = [5,5,15,10,10,10,5,5,5,5, 5,5,5,5,5,5,5,5,5,5, 5,5,5,5,5,5,5,5,5,5, 5,5,5,5,5,5,5,5,5,5, 5,5,5,5,5,5,5,5,5];
const cR4C3Ens = [3,3.5,4,3.5,3.5,3,3,3,3,3, 3,3,3,3,3,3,3.5,3.5,3,3, 2.5,2.5,2.5,2.5,2,2,2,2,2,2, 2,2,2,1.5,1.5,1.5,1.5,1.5,2,2, 2.5,2.5,2,1.5,1.5,1,1.5,1.5,1.5];
const cR4C3EnsErr = [10,10,5,5,5,5,5,5,5,5, 5,5,5,5,5,5,5,5,5,5, 5,5,5,5,5,5,5,5,5,5, 5,5,5,5,5,5,5,5,5,5, 5,5,5,5,5,5,5,5,5];

// ---- panel d ----
const dR1C1Ood = [51,49,50,15,14,13,10,9,9,7, 6,5,4,3.5,3,3,3,4,4.5,4, 4,4,4,4,4,4,4,4,4,4, 4,4.5,4.5,4,4,4,4,4,4,4, 4,4,4,4,4,4,4,3.5,3.5];
const dR1C1OodErr = [30,15,15,50,50,40,40,50,40,30, 20,15,15,10,10,10,10,10,10,10, 10,5,5,5,5,5,5,5,5,5, 5,5,5,5,5,5,5,5,5,5, 5,5,5,5,5,5,5,5,5];
const dR1C1Ens = [21,12,11,14,15,13,12,15,14,12, 14,8,5,5,7,7,8,8,8,8, 7,6,5,5,6,8,13,6,5,4, 4,5,4,4,4,4,5,4,3.5,3, 3.5,4,5,4,3.5,4,4.5,4,4];
const dR1C1EnsErr = [120,80,60,50,50,45,45,75,60,50, 60,40,30,30,30,30,25,25,25,25, 25,30,30,25,25,25,35,25,25,20, 20,25,20,20,20,20,20,20,15,15, 20,15,20,20,15,15,20,15,15];

const dR1C2Ood = [49,49,48,15,13,12,10,7,8,6, 5,4,3.5,3,2.5,2.5,3,3.5,4,4, 4,4,3.5,3.5,3.5,3.5,3.5,3.5,3.5,3.5, 3.5,3.5,3.5,3.5,3.5,3.5,3.5,3.5,3.5,3.5, 3.5,3.5,3.5,3.5,3.5,3.5,3.5,3.5,3.5];
const dR1C2OodErr = [30,15,15,40,40,40,40,40,30,30, 20,15,10,10,10,10,10,5,5,5, 5,5,5,5,5,5,5,5,5,5, 5,5,5,5,5,5,5,5,5,5, 5,5,5,5,5,5,5,5,5];
const dR1C2Ens = [16,12,10,12,11,12,10,13,12,11, 13,7,5,5,5,6,6,7,7,7, 6,5,5,4,5,6,11,5,4,3.5, 3.5,4,4,3.5,3.5,4,3.5,3.5,3.5,3.5, 3.5,4,3.5,3.5,3.5,3,3.5,3.5,3.5];
const dR1C2EnsErr = [100,80,50,40,40,40,40,60,50,40, 60,30,25,25,25,25,20,20,20,20, 20,20,20,15,20,20,35,20,20,15, 15,15,15,15,15,15,15,15,15,15, 15,15,15,15,15,15,15,15,15];

const dR1C3Ood = [47,47,47,14,12,10,8,6,5,4, 3.5,3,3,3,2.5,2.5,3,3.5,4,3.5, 3.5,3.5,3.5,3.5,3.5,3.5,3.5,3.5,3.5,3.5, 3.5,3.5,3.5,3.5,3.5,3.5,3.5,3.5,3.5,3.5, 3.5,3.5,3.5,3.5,3.5,3.5,3.5,3.5,3.5];
const dR1C3OodErr = [30,25,15,40,40,40,40,40,30,20, 15,10,10,10,10,10,10,5,5,5, 5,5,5,5,5,5,5,5,5,5, 5,5,5,5,5,5,5,5,5,5, 5,5,5,5,5,5,5,5,5];
const dR1C3Ens = [12,8,10,12,10,11,9,10,11,9, 12,7,4,4,4.5,5,6,6,6.5,6, 5,4,4,3.5,4,5,10,4.5,3.5,3, 3.5,4,4,3.5,3,3.5,3.5,3,3.5,3.5, 3,3.5,4,3.5,3.5,3,3.5,3,3.5];
const dR1C3EnsErr = [100,55,50,40,40,40,40,55,50,40, 60,30,25,20,20,20,20,20,20,20, 20,15,15,15,15,15,30,15,15,15, 15,15,15,10,10,10,10,10,10,10, 10,10,10,10,10,10,10,10,10];

const dR2C1Ood = [52,50,50,20,18,14,10,7,4,5.5, 5,4,3.5,3,3,3,2.5,2.5,2.5,3, 3,3.5,3.5,3.5,3.5,3.5,3.5,3.5,3.5,3.5, 3,3,3,3,3,3,3,3,3,3, 3,3,3,3,3,3,3,3,3];
const dR2C1OodErr = [15,15,15,40,40,30,30,20,15,15, 10,10,5,5,5,5,5,5,5,5, 5,5,5,5,5,5,5,5,5,5, 5,5,5,5,5,5,5,5,5,5, 5,5,5,5,5,5,5,5,5];
const dR2C1Ens = [22,14,13,12,13,11,12,10,11,11, 11,7,6,5,5,5,6,7,6.5,6, 5,4,3.5,4,4.5,5,4.5,3.5,3,3, 3.5,3,3,3,3,3,3.5,3.5,3,3, 3.5,3,3,3,3,3,3.5,3,3.5];
const dR2C1EnsErr = [50,50,40,30,30,30,25,25,25,25, 25,20,20,15,15,15,15,15,15,15, 10,10,10,10,10,15,10,10,10,10, 10,10,10,10,10,10,10,10,10,10, 5,5,5,5,5,5,5,5,5];

const dR2C2Ood = [50,48,47,15,16,12,6,5,4,5, 4,3,2.5,2.5,2.5,2,2.5,2.5,2.5,3, 3,3,3,3,3,3,3,3,3,3, 3,3,3,3,3,3,3,3,3,3, 3,3,3,3,3,3,3,3,3];
const dR2C2OodErr = [20,15,15,40,30,30,20,20,15,10, 10,5,5,5,5,5,5,5,5,5, 5,5,5,5,5,5,5,5,5,5, 5,5,5,5,5,5,5,5,5,5, 5,5,5,5,5,5,5,5,5];
const dR2C2Ens = [15,10,8,9,8,9,8,9,10,9, 9,6,5,4,3,3.5,5,5.5,5,4.5, 3.5,3,3,3,3,3.5,3.5,3,2.5,2.5, 2.5,2.5,2.5,2.5,2.5,3,2.5,2.5,2.5,2.5, 3,2.5,2.5,2.5,2.5,2.5,2.5,2.5,3];
const dR2C2EnsErr = [80,60,45,40,40,35,35,30,30,30, 30,20,15,15,15,15,15,15,15,15, 10,10,10,10,10,10,10,10,10,10, 5,5,5,5,5,5,5,5,5,5, 5,5,5,5,5,5,5,5,5];

const dR2C3Ood = [45,44,43,11,10,4,3.5,3,2.5,2.5, 3,2.5,2.5,2,2,2,1.5,1.5,1.5,2.5, 2.5,2.5,2.5,2.5,2.5,2.5,2.5,2.5,2.5,2.5, 2.5,2.5,2.5,2.5,2.5,2.5,2,2,2,2, 2,2,2,2,2,2,2,2,2];
const dR2C3OodErr = [20,10,15,30,30,15,10,10,5,5, 5,5,5,5,5,5,5,5,5,5, 5,5,5,5,5,5,5,5,5,5, 5,5,5,5,5,5,5,5,5,5, 5,5,5,5,5,5,5,5,5];
const dR2C3Ens = [9,5,4.5,4.5,4.5,5,6,6.5,6,6, 6,5,4,3.5,3,2.5,3,3.5,4,3, 2.5,2.5,2.5,2.5,3,3,3,3,2.5,2, 1.5,2,2,2.5,2.5,2.5,2.5,2.5,2.5,2.5, 2.5,2,2.5,2,2,2,2,2,2.5];
const dR2C3EnsErr = [60,25,20,15,15,15,15,15,15,15, 15,10,10,10,10,10,10,10,10,10, 10,10,5,5,5,5,5,5,5,5, 5,5,5,5,5,5,5,5,5,5, 5,5,5,5,5,5,5,5,5];

const dR3C1Ood = [52,51,49,20,19,17,12,8,5,5, 5,4.5,4,3.5,3,3,3,3,3,2.5, 3,3.5,3.5,3.5,3,3,3,3,3,3, 3,3,3,3,3,3,3,3,3,3, 3,3,3,3,3,3,3,3,3];
const dR3C1OodErr = [10,10,10,30,30,30,20,15,10,10, 10,5,5,5,5,5,5,5,5,5, 5,5,5,5,5,5,5,5,5,5, 5,5,5,5,5,5,5,5,5,5, 5,5,5,5,5,5,5,5,5];
const dR3C1Ens = [27,16,14,12,12,11,11,12,12,11, 11,9,8,7,6,5.5,5.5,6.5,7,6.5, 6,4.5,4,4,4,4,4.5,3.5,3.5,3.5, 3.5,3,3.5,3.5,3,3.5,4,3.5,3.5,3.5, 3.5,3.5,3,3,3.5,3,3.5,3,3.5];
const dR3C1EnsErr = [40,30,20,20,15,15,15,15,20,15, 20,15,10,10,10,10,10,15,15,10, 10,10,10,10,10,10,10,5,5,5, 5,5,5,5,5,5,5,5,5,5, 5,5,5,5,5,5,5,5,5];

const dR3C2Ood = [52,49,46,17,16,14,8,5,4,4, 3.5,3.5,3.5,3,3,2.5,2.5,2.5,2.5,2.5, 3,3,3,3,3,3,3,3,3,3, 3,3,3,3,3,3,3,3,3,3, 3,3,3,3,3,3,3,3,3];
const dR3C2OodErr = [5,5,10,30,30,30,20,10,10,5, 5,5,5,5,5,5,5,5,5,5, 5,5,5,5,5,5,5,5,5,5, 5,5,5,5,5,5,5,5,5,5, 5,5,5,5,5,5,5,5,5];
const dR3C2Ens = [20,12,10,10,9,9,9,9,10,9, 9,7,5,4,4,4,4.5,4.5,5,4.5, 4.5,3,3,3,3.5,3.5,3.5,3,3,3, 3,3,3,3,3,3,3,3,3,3, 3,3,3,3,3,3,3,3,2.5];
const dR3C2EnsErr = [40,30,30,25,20,15,15,15,15,15, 20,10,10,10,10,10,10,10,10,10, 10,5,5,5,5,5,5,5,5,5, 5,5,5,5,5,5,5,5,5,5, 5,5,5,5,5,5,5,5,5];

const dR3C3Ood = [46,44,44,10,9,3,2.5,2.5,2,2, 2,2.5,2,1.5,1.5,1.5,1.5,1.5,2,2, 2,2,2,2,2,2,2,2,2.5,2.5, 2,2,2,2,2,2,2,2,2,2, 2,2,2,2,2,2,2,2,1.5];
const dR3C3OodErr = [20,10,10,30,30,15,10,5,5,5, 5,5,5,5,5,5,5,5,5,5, 5,5,5,5,5,5,5,5,5,5, 5,5,5,5,5,5,5,5,5,5, 5,5,5,5,5,5,5,5,5];
const dR3C3Ens = [8,5,4,4,4,4.5,5,6,6,5.5, 5,4,3,2.5,2,2,2.5,3,2.5,2, 2,2,2,2,2,2,2,2.5,2,1.5, 1.5,1.5,1.5,2,2,2,1.5,1.5,2,2, 2,2,1.5,1.5,2,1.5,1.5,1.5,1];
const dR3C3EnsErr = [35,15,10,10,10,10,10,10,10,10, 10,10,5,5,5,5,5,5,5,5, 5,5,5,5,5,5,5,5,5,5, 5,5,5,5,5,5,5,5,5,5, 5,5,5,5,5,5,5,5,5];

const dR4C1Ood = [53,51,24,20,17,15,10,6,5.5,5, 4.5,4,3.5,3.5,3,3,3,3,3,3, 3,3,3,3,3,3,3,3,3,3, 3,3,3,3,3,3,3,3,3,3, 3,3,3,3,3,3,3,3,3];
const dR4C1OodErr = [5,10,20,15,10,10,10,10,5,5, 5,5,5,5,5,5,5,5,5,5, 5,5,5,5,5,5,5,5,5,5, 5,5,5,5,5,5,5,5,5,5, 5,5,5,5,5,5,5,5,5];
const dR4C1Ens = [34,28,20,16,14,13,12,12,12,12, 11,10,8,7,6.5,6,6,6,6,6, 5.5,5,4.5,4,4,4,3.5,3.5,3.5,3.5, 3.5,3.5,3.5,3.5,3.5,3.5,3.5,3.5,3.5,3.5, 3,3,3,3,3,3,3,3,3];
const dR4C1EnsErr = [15,15,10,10,10,10,10,10,10,10, 10,10,5,5,5,5,5,5,5,5, 5,5,5,5,5,5,5,5,5,5, 5,5,5,5,5,5,5,5,5,5, 5,5,5,5,5,5,5,5,5];

const dR4C2Ood = [52,50,19,18,15,10,7,5,4,4, 3.5,3.5,3,3,2.5,2.5,2.5,2.5,2.5,2.5, 2.5,2.5,2.5,2.5,2.5,2.5,2.5,2.5,2.5,2.5, 2.5,2.5,2.5,2.5,2.5,2.5,2.5,2.5,2.5,2.5, 2.5,2.5,2.5,2.5,2.5,2.5,2.5,2.5,2.5];
const dR4C2OodErr = [5,5,20,10,10,10,5,5,5,5, 5,5,5,5,5,5,5,5,5,5, 5,5,5,5,5,5,5,5,5,5, 5,5,5,5,5,5,5,5,5,5, 5,5,5,5,5,5,5,5,5];
const dR4C2Ens = [28,17,13,11,10,9,9,9,9,9.5, 8.5,7,6,5,4.5,4.5,4.5,4.5,4.5,4, 3.5,3,3,3,3,3,3,2.5,2.5,2.5, 2.5,2.5,2.5,2.5,2.5,2.5,2.5,2.5,2.5,2.5, 2.5,2.5,2.5,2.5,2.5,2.5,2.5,2.5,2.5];
const dR4C2EnsErr = [40,20,10,10,10,10,10,10,10,10, 10,10,5,5,5,5,5,5,5,5, 5,5,5,5,5,5,5,5,5,5, 5,5,5,5,5,5,5,5,5,5, 5,5,5,5,5,5,5,5,5];

const dR4C3Ood = [45,44,9,10,3,2.5,2,2,1.5,1.5, 2,2,1.5,1.5,1.5,1.5,1.5,1.5,1.5,1.5, 1.5,1.5,1.5,1.5,1.5,1.5,1.5,1.5,1.5,1.5, 1.5,1.5,1.5,1.5,1.5,1.5,1.5,1.5,1.5,1.5, 1.5,1.5,1.5,1.5,1.5,1.5,1.5,1.5,1.5];
const dR4C3OodErr = [15,10,20,20,20,10,5,5,5,5, 5,5,5,5,5,5,5,5,5,5, 5,5,5,5,5,5,5,5,5,5, 5,5,5,5,5,5,5,5,5,5, 5,5,5,5,5,5,5,5,5];
const dR4C3Ens = [9,5,4,4,4,4,3.5,4,4,4.5, 4,3.5,3,2.5,2,2,2,2,2,2, 2,2,2,2,2,2,1.5,1.5,1.5,1.5, 1.5,1.5,1.5,1.5,1.5,1.5,2,2,1.5,1.5, 1.5,1.5,1.5,1.5,1.5,1.5,1.5,1.5,1.5];
const dR4C3EnsErr = [40,10,10,10,10,10,10,10,10,10, 10,5,5,5,5,5,5,5,5,5, 5,5,5,5,5,5,5,5,5,5, 5,5,5,5,5,5,5,5,5,5, 5,5,5,5,5,5,5,5,5];

// ---------------- structure ----------------
type Sub = { ood: number[]; oodErr: number[]; ens: number[]; ensErr: number[] };
const S = (ood: number[], oodErr: number[], ens: number[], ensErr: number[]): Sub => ({ ood, oodErr, ens, ensErr });

const panels: Sub[][][] = [
  [
    [S(aR1C1Ood, aR1C1OodErr, aR1C1Ens, aR1C1EnsErr), S(aR1C2Ood, aR1C2OodErr, aR1C2Ens, aR1C2EnsErr), S(aR1C3Ood, aR1C3OodErr, aR1C3Ens, aR1C3EnsErr)],
    [S(aR2C1Ood, aR2C1OodErr, aR2C1Ens, aR2C1EnsErr), S(aR2C2Ood, aR2C2OodErr, aR2C2Ens, aR2C2EnsErr), S(aR2C3Ood, aR2C3OodErr, aR2C3Ens, aR2C3EnsErr)],
    [S(aR3C1Ood, aR3C1OodErr, aR3C1Ens, aR3C1EnsErr), S(aR3C2Ood, aR3C2OodErr, aR3C2Ens, aR3C2EnsErr), S(aR3C3Ood, aR3C3OodErr, aR3C3Ens, aR3C3EnsErr)],
    [S(aR4C1Ood, aR4C1OodErr, aR4C1Ens, aR4C1EnsErr), S(aR4C2Ood, aR4C2OodErr, aR4C2Ens, aR4C2EnsErr), S(aR4C3Ood, aR4C3OodErr, aR4C3Ens, aR4C3EnsErr)],
  ],
  [
    [S(bR1C1Ood, bR1C1OodErr, bR1C1Ens, bR1C1EnsErr), S(bR1C2Ood, bR1C2OodErr, bR1C2Ens, bR1C2EnsErr), S(bR1C3Ood, bR1C3OodErr, bR1C3Ens, bR1C3EnsErr)],
    [S(bR2C1Ood, bR2C1OodErr, bR2C1Ens, bR2C1EnsErr), S(bR2C2Ood, bR2C2OodErr, bR2C2Ens, bR2C2EnsErr), S(bR2C3Ood, bR2C3OodErr, bR2C3Ens, bR2C3EnsErr)],
    [S(bR3C1Ood, bR3C1OodErr, bR3C1Ens, bR3C1EnsErr), S(bR3C2Ood, bR3C2OodErr, bR3C2Ens, bR3C2EnsErr), S(bR3C3Ood, bR3C3OodErr, bR3C3Ens, bR3C3EnsErr)],
    [S(bR4C1Ood, bR4C1OodErr, bR4C1Ens, bR4C1EnsErr), S(bR4C2Ood, bR4C2OodErr, bR4C2Ens, bR4C2EnsErr), S(bR4C3Ood, bR4C3OodErr, bR4C3Ens, bR4C3EnsErr)],
  ],
  [
    [S(cR1C1Ood, cR1C1OodErr, cR1C1Ens, cR1C1EnsErr), S(cR1C2Ood, cR1C2OodErr, cR1C2Ens, cR1C2EnsErr), S(cR1C3Ood, cR1C3OodErr, cR1C3Ens, cR1C3EnsErr)],
    [S(cR2C1Ood, cR2C1OodErr, cR2C1Ens, cR2C1EnsErr), S(cR2C2Ood, cR2C2OodErr, cR2C2Ens, cR2C2EnsErr), S(cR2C3Ood, cR2C3OodErr, cR2C3Ens, cR2C3EnsErr)],
    [S(cR3C1Ood, cR3C1OodErr, cR3C1Ens, cR3C1EnsErr), S(cR3C2Ood, cR3C2OodErr, cR3C2Ens, cR3C2EnsErr), S(cR3C3Ood, cR3C3OodErr, cR3C3Ens, cR3C3EnsErr)],
    [S(cR4C1Ood, cR4C1OodErr, cR4C1Ens, cR4C1EnsErr), S(cR4C2Ood, cR4C2OodErr, cR4C2Ens, cR4C2EnsErr), S(cR4C3Ood, cR4C3OodErr, cR4C3Ens, cR4C3EnsErr)],
  ],
  [
    [S(dR1C1Ood, dR1C1OodErr, dR1C1Ens, dR1C1EnsErr), S(dR1C2Ood, dR1C2OodErr, dR1C2Ens, dR1C2EnsErr), S(dR1C3Ood, dR1C3OodErr, dR1C3Ens, dR1C3EnsErr)],
    [S(dR2C1Ood, dR2C1OodErr, dR2C1Ens, dR2C1EnsErr), S(dR2C2Ood, dR2C2OodErr, dR2C2Ens, dR2C2EnsErr), S(dR2C3Ood, dR2C3OodErr, dR2C3Ens, dR2C3EnsErr)],
    [S(dR3C1Ood, dR3C1OodErr, dR3C1Ens, dR3C1EnsErr), S(dR3C2Ood, dR3C2OodErr, dR3C2Ens, dR3C2EnsErr), S(dR3C3Ood, dR3C3OodErr, dR3C3Ens, dR3C3EnsErr)],
    [S(dR4C1Ood, dR4C1OodErr, dR4C1Ens, dR4C1EnsErr), S(dR4C2Ood, dR4C2OodErr, dR4C2Ens, dR4C2EnsErr), S(dR4C3Ood, dR4C3OodErr, dR4C3Ens, dR4C3EnsErr)],
  ],
];

// ---------------- layout & style ----------------
const COL_LEFTS = [[62, 263, 465], [690, 893, 1094]];
const ROW_TOPS = [[43, 245, 447, 649], [871, 1074, 1276, 1479]];
const LETTER_POS = [[9, 6], [651, 6], [9, 846], [661, 846]];
const BOX_W = 157;
const BOX_H = 162;
const Y_AXIS_W = 36;
const X_AXIS_H = 26;
const PAD_T = 8;
const PAD_R = 3;
const CANVAS_W = Y_AXIS_W + BOX_W + PAD_R;
const CANVAS_H = PAD_T + BOX_H + X_AXIS_H;

const FONT = '"DejaVu Sans", "Liberation Sans", sans-serif';
const FONT_SIZE = 8.5;
const BLUE = "#3b4e8b";
const GREEN = "#22a383";
const TXT = "#222222";
const AXC = "#333333";

const errorBarPlugin = {
  id: "errbars",
  afterDatasetDraw(chart: any, args: any) {
    const ds = chart.data.datasets[args.index];
    const errs: number[] = ds.errs;
    if (!errs) return;
    const { ctx, chartArea: a, scales } = chart;
    ctx.save();
    ctx.beginPath();
    ctx.rect(a.left, a.top, a.right - a.left, a.bottom - a.top);
    ctx.clip();
    ctx.strokeStyle = ds.borderColor;
    ctx.lineWidth = 1;
    ctx.beginPath();
    ds.data.forEach((p: any, i: number) => {
      const e = errs[i] || 0;
      if (e <= 0) return;
      const x = scales.x.getPixelForValue(p.x);
      ctx.moveTo(x, scales.y.getPixelForValue(p.y - e));
      ctx.lineTo(x, scales.y.getPixelForValue(p.y + e));
    });
    ctx.stroke();
    ctx.restore();
  },
};

const framePlugin = {
  id: "frame",
  afterDraw(chart: any) {
    const { ctx, chartArea: a } = chart;
    ctx.save();
    ctx.strokeStyle = AXC;
    ctx.lineWidth = 1;
    ctx.strokeRect(Math.round(a.left) - 0.5, Math.round(a.top) - 0.5, Math.round(a.right - a.left) + 1, Math.round(a.bottom - a.top) + 1);
    ctx.restore();
  },
};

const legendPlugin = {
  id: "errlegend",
  afterDraw(chart: any) {
    const { ctx, chartArea: a } = chart;
    const w = 92, h = 31, r = 2.5;
    const x0 = Math.round(a.right) - 4 - w + 0.5;
    const y0 = Math.round(a.top) + 2 + 0.5;
    ctx.save();
    ctx.beginPath();
    ctx.moveTo(x0 + r, y0);
    ctx.lineTo(x0 + w - r, y0);
    ctx.arcTo(x0 + w, y0, x0 + w, y0 + r, r);
    ctx.lineTo(x0 + w, y0 + h - r);
    ctx.arcTo(x0 + w, y0 + h, x0 + w - r, y0 + h, r);
    ctx.lineTo(x0 + r, y0 + h);
    ctx.arcTo(x0, y0 + h, x0, y0 + h - r, r);
    ctx.lineTo(x0, y0 + r);
    ctx.arcTo(x0, y0, x0 + r, y0, r);
    ctx.closePath();
    ctx.fillStyle = "rgba(255,255,255,0.85)";
    ctx.fill();
    ctx.strokeStyle = "#cccccc";
    ctx.lineWidth = 1;
    ctx.stroke();
    const items = chart.data.datasets.map((d: any) => ({ label: d.label, color: d.borderColor }));
    items.forEach((it: any, i: number) => {
      const y = y0 + 9 + i * 12.5;
      ctx.strokeStyle = it.color;
      ctx.lineWidth = 1.3;
      ctx.beginPath();
      ctx.moveTo(x0 + 5, y);
      ctx.lineTo(x0 + 25, y);
      ctx.stroke();
      ctx.lineWidth = 1;
      ctx.beginPath();
      ctx.moveTo(x0 + 15, y - 4.5);
      ctx.lineTo(x0 + 15, y + 4.5);
      ctx.stroke();
      ctx.fillStyle = TXT;
      ctx.font = `8px ${FONT}`;
      ctx.textBaseline = "middle";
      ctx.textAlign = "left";
      ctx.fillText(it.label, x0 + 31, y + 0.5);
    });
    ctx.restore();
  },
};

function SubPlot({ sub, left, top, legend }: { sub: Sub; left: number; top: number; legend: boolean }) {
  const ref = useRef<HTMLCanvasElement>(null);
  useEffect(() => {
    const n = Math.min(percentiles.length, sub.ood.length, sub.ens.length);
    const ood = [] as { x: number; y: number }[];
    const ens = [] as { x: number; y: number }[];
    for (let i = 0; i < n; i++) {
      ood.push({ x: percentiles[i], y: sub.ood[i] * VALUE_UNIT });
      ens.push({ x: percentiles[i], y: sub.ens[i] * VALUE_UNIT });
    }
    const oodE = sub.oodErr.map((e) => e * ERR_UNIT);
    const ensE = sub.ensErr.map((e) => e * ERR_UNIT);
    let lo = Infinity, hi = -Infinity;
    const scan = (pts: { y: number }[], errs: number[]) =>
      pts.forEach((p, i) => {
        const e = errs[i] || 0;
        lo = Math.min(lo, p.y - e);
        hi = Math.max(hi, p.y + e);
      });
    scan(ood, oodE);
    scan(ens, ensE);
    const pad = (hi - lo) * 0.05;
    const yMin = lo - pad, yMax = hi + pad;
    const yTicks: number[] = [];
    for (let k = Math.ceil(yMin * 10 - 1e-9); k <= Math.floor(yMax * 10 + 1e-9); k++) yTicks.push(k / 10);
    const x0 = percentiles[0], x1 = percentiles[percentiles.length - 1];
    const xPad = (x1 - x0) * 0.05;

    const tickFont = { family: FONT, size: FONT_SIZE };
    const chart = new Chart(ref.current as HTMLCanvasElement, {
      type: "line",
      data: {
        datasets: [
          { label: oodLabel, data: ood, borderColor: BLUE, backgroundColor: BLUE, borderWidth: 1.3, pointRadius: 0, tension: 0, fill: false, order: 2, errs: oodE } as any,
          { label: ensLabel, data: ens, borderColor: GREEN, backgroundColor: GREEN, borderWidth: 1.3, pointRadius: 0, tension: 0, fill: false, order: 1, errs: ensE } as any,
        ],
      },
      options: {
        animation: false,
        responsive: false,
        maintainAspectRatio: false,
        devicePixelRatio: 1,
        events: [],
        layout: { padding: { left: 0, top: PAD_T, right: PAD_R, bottom: 0 } },
        plugins: { legend: { display: false }, tooltip: { enabled: false } },
        scales: {
          x: {
            type: "linear",
            min: x0 - xPad,
            max: x1 + xPad,
            afterBuildTicks: (s: any) => { s.ticks = xTickValues.map((v) => ({ value: v })); },
            afterFit: (s: any) => { s.height = X_AXIS_H; },
            ticks: { font: tickFont, color: TXT, padding: 2, maxRotation: 0, autoSkip: false, callback: (v: any) => String(v) },
            grid: { display: true, drawOnChartArea: false, drawTicks: true, tickLength: 3.5, color: AXC, lineWidth: 1 },
            border: { display: false },
            title: { display: true, text: xTitle, font: tickFont, color: TXT, padding: { top: 0, bottom: 0 } },
          },
          y: {
            type: "linear",
            min: yMin,
            max: yMax,
            afterBuildTicks: (s: any) => { s.ticks = yTicks.map((v) => ({ value: v })); },
            afterFit: (s: any) => { s.width = Y_AXIS_W; },
            ticks: { font: tickFont, color: TXT, padding: 2, autoSkip: false, callback: (v: any) => Number(v).toFixed(1) },
            grid: { display: true, drawOnChartArea: false, drawTicks: true, tickLength: 3.5, color: AXC, lineWidth: 1 },
            border: { display: false },
            title: { display: true, text: yTitle, font: tickFont, color: TXT, padding: { top: 2, bottom: 0 } },
          },
        },
      } as any,
      plugins: legend ? [errorBarPlugin, framePlugin, legendPlugin] : [errorBarPlugin, framePlugin],
    });
    return () => chart.destroy();
  }, [sub, legend]);
  return (
    <canvas
      ref={ref}
      width={CANVAS_W}
      height={CANVAS_H}
      style={{ position: "absolute", left: left - Y_AXIS_W, top: top - PAD_T, width: CANVAS_W, height: CANVAS_H }}
    />
  );
}

export default function App() {
  return (
    <div style={{ position: "absolute", left: 0, top: 0, width: 1257, height: 1671, background: "#ffffff", overflow: "hidden" }}>
      {panels.map((rows, p) => (
        <React.Fragment key={p}>
          <div
            style={{
              position: "absolute",
              left: LETTER_POS[p][0],
              top: LETTER_POS[p][1],
              fontFamily: '"Liberation Sans", Arial, sans-serif',
              fontSize: 22,
              lineHeight: "22px",
              color: "#111",
            }}
          >
            {panelLabels[p]}
          </div>
          {rows.map((row, r) =>
            row.map((sub, c) => (
              <SubPlot
                key={`${p}-${r}-${c}`}
                sub={sub}
                left={COL_LEFTS[p % 2][c]}
                top={ROW_TOPS[Math.floor(p / 2)][r]}
                legend={c === 0}
              />
            ))
          )}
        </React.Fragment>
      ))}
    </div>
  );
}
